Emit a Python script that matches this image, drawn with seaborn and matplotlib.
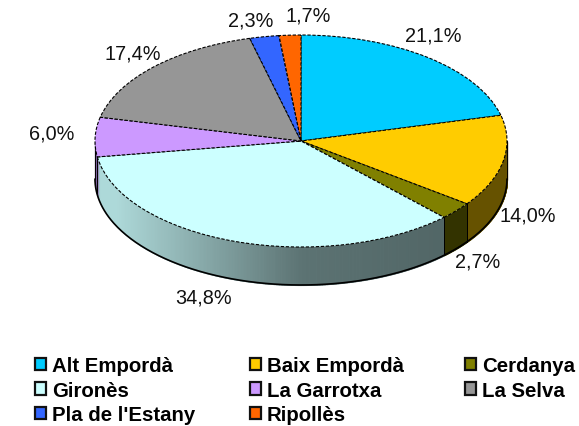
# -*- coding: utf-8 -*-
import numpy as np
import seaborn as sns
import matplotlib
matplotlib.use('Agg')
import matplotlib.pyplot as plt
from matplotlib.patches import Patch

# Data
comarques = ['Alt Empordà', 'Baix Empordà', 'Cerdanya', 'Gironès',
             'La Garrotxa', 'La Selva', "Pla de l'Estany", 'Ripollès']
percent = [21.1, 14.0, 2.7, 34.8, 6.0, 17.4, 2.3, 1.7]
colors = ['#00CCFF', '#FFCC00', '#808000', '#CCFFFF',
          '#CC99FF', '#969696', '#3366FF', '#FF6600']

W, H = 579, 427
# pie geometry in pixels
cx, cy, rx, ry, depth = 301, 142, 206, 106, 38
# label centres in pixels, same order as percent
label_pos = [(433, 36), (528, 216), (478, 262), (204, 298),
             (52, 134), (133, 54), (251, 21), (308, 16)]

sns.set_style('white')
plt.rcParams['font.family'] = ['Liberation Sans', 'DejaVu Sans']

fig = plt.figure(figsize=(W / 100, H / 100), dpi=100)
ax = fig.add_axes([0, 0, 1, 1])

palette = sns.color_palette(colors)
edges = np.cumsum([0] + percent) / sum(percent) * 2 * np.pi
d = depth / ry


def shade(x):
    # side wall gets darker from left to right
    return np.interp(x, [-1.0, -0.98, -0.9, 0.0, 0.7, 1.0],
                     [0.6, 0.85, 0.85, 0.45, 0.4, 0.4])


# Side wall of the pie, drawn as thin strips
for i, col in enumerate(palette):
    t0, t1 = max(edges[i], np.pi / 2), min(edges[i + 1], 3 * np.pi / 2)
    if t1 <= t0:
        continue
    ts = np.linspace(t0, t1, max(int((t1 - t0) * 130), 2))
    for a, b in zip(ts[:-1], ts[1:]):
        seg = np.linspace(a, b, 4)
        c = np.array(col) * shade(np.sin((a + b) / 2))
        ax.fill_between(np.sin(seg), np.cos(seg), np.cos(seg) - d,
                        color=c, linewidth=0.8, antialiased=False, zorder=1)
    # slice separators on the wall
    for t in (t0, t1):
        ax.plot([np.sin(t)] * 2, [np.cos(t), np.cos(t) - d],
                color='black', lw=0.7, zorder=2)

# Bottom outline
tb = np.linspace(np.pi / 2, 3 * np.pi / 2, 300)
ax.plot(np.sin(tb), np.cos(tb) - d, color='black', lw=1.2, zorder=2)

# Top face
ax.pie(percent, colors=palette, startangle=90, counterclock=False, radius=1,
       wedgeprops=dict(edgecolor='black', linewidth=0.8,
                       linestyle=(0, (3, 1.5)), zorder=3))
ax.set_aspect('auto')
ax.set_xlim(-cx / rx, (W - cx) / rx)
ax.set_ylim((cy - H) / ry, cy / ry)
ax.axis('off')

# Value labels
for v, (px, py) in zip(percent, label_pos):
    fig.text(px / W, 1 - py / H, f'{v:.1f}%'.replace('.', ','), fontsize=14.3,
             ha='center', va='center', color='#111111')

# Legend, one block per column
col_x = [35, 250, 465]
for c in range(3):
    handles = [Patch(facecolor=palette[i], edgecolor='#111111', linewidth=1.6,
                     label=comarques[i]) for i in range(c, 8, 3)]
    leg = fig.legend(handles=handles, loc='upper left',
                     bbox_to_anchor=(col_x[c] / W, 1 - 357 / H),
                     frameon=False, borderpad=0, borderaxespad=0,
                     handlelength=0.53, handleheight=0.53, handletextpad=0.3,
                     labelspacing=0.28, labelcolor='black',
                     prop=dict(family='Liberation Sans', weight='bold', size=14.7))

fig.savefig('out.png', dpi=100)
